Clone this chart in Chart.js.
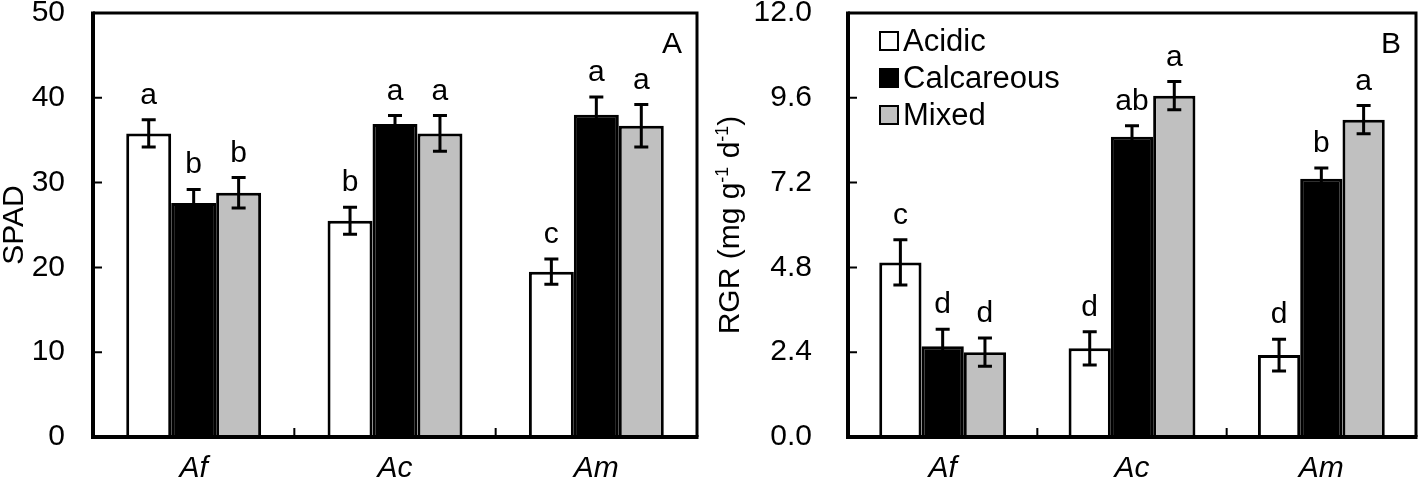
<!DOCTYPE html>
<html>
<head>
<meta charset="utf-8">
<script src="https://cdn.jsdelivr.net/npm/chart.js@4.4.1/dist/chart.umd.min.js"></script>
<style>
  body { margin: 0; background: #fff; }
  .wrap { position: relative; width: 1419px; height: 485px; }
  .panel { position: absolute; top: 0; height: 485px; }
  .left { left: 0; width: 712px; }
  .right { left: 712px; width: 707px; }
</style>
</head>
<body>
<div class="wrap">
  <div class="panel left"><canvas id="spad"></canvas></div>
  <div class="panel right"><canvas id="rgr"></canvas></div>
</div>
<script>
const categories = ["Af", "Ac", "Am"];
const seriesNames = ["Acidic", "Calcareous", "Mixed"];

// panel A - SPAD
const spadAcidic = [35.8, 25.5, 19.5];
const spadCalcareous = [27.6, 36.9, 38.0];
const spadMixed = [28.8, 35.8, 36.7];
const spadErrAcidic = [1.6, 1.6, 1.5];
const spadErrCalcareous = [1.6, 1.0, 2.1];
const spadErrMixed = [1.8, 2.1, 2.5];
const spadLetAcidic = ["a", "b", "c"];
const spadLetCalcareous = ["b", "a", "a"];
const spadLetMixed = ["b", "a", "a"];

// panel B - RGR
const rgrAcidic = [4.94, 2.51, 2.32];
const rgrCalcareous = [2.57, 8.50, 7.31];
const rgrMixed = [2.40, 9.66, 8.98];
const rgrErrAcidic = [0.64, 0.47, 0.45];
const rgrErrCalcareous = [0.48, 0.31, 0.30];
const rgrErrMixed = [0.40, 0.40, 0.40];
const rgrLetAcidic = ["c", "d", "d"];
const rgrLetCalcareous = ["d", "ab", "b"];
const rgrLetMixed = ["d", "a", "a"];

const FONT = "'Liberation Sans', Arial, sans-serif";
const SIZE = 30;
const fills = ["#ffffff", "#000000", "#c0c0c0"];

function makeDatasets(values, errors, letters) {
  return seriesNames.map((name, i) => ({
    label: name,
    data: values[i],
    errors: errors[i],
    letters: letters[i],
    backgroundColor: fills[i],
    borderColor: "#000",
    borderWidth: 3,
    borderSkipped: "start",
    categoryPercentage: 0.67,
    barPercentage: 1,
  }));
}

const figurePlugin = {
  id: "figure",
  afterDatasetsDraw(chart, args, opts) {
    const ctx = chart.ctx,
      area = chart.chartArea,
      x = chart.scales.x,
      y = chart.scales.y;
    ctx.save();

    // error bars and letters
    ctx.strokeStyle = "#000";
    ctx.fillStyle = "#000";
    ctx.lineWidth = 3;
    ctx.font = SIZE + "px " + FONT;
    ctx.textAlign = "center";
    ctx.textBaseline = "alphabetic";
    chart.data.datasets.forEach((ds, di) => {
      chart.getDatasetMeta(di).data.forEach((bar, i) => {
        const v = ds.data[i], e = ds.errors[i];
        const top = y.getPixelForValue(v + e), bot = y.getPixelForValue(v - e);
        ctx.beginPath();
        ctx.moveTo(bar.x, top);
        ctx.lineTo(bar.x, bot);
        ctx.moveTo(bar.x - 7, top);
        ctx.lineTo(bar.x + 7, top);
        ctx.moveTo(bar.x - 7, bot);
        ctx.lineTo(bar.x + 7, bot);
        ctx.stroke();
        ctx.fillText(ds.letters[i], bar.x, top - 16);
      });
    });

    // inward tick marks
    ctx.lineWidth = 2;
    ctx.beginPath();
    y.ticks.forEach((t, i) => {
      const py = y.getPixelForTick(i);
      ctx.moveTo(area.left, py);
      ctx.lineTo(area.left + 9, py);
    });
    for (let i = 0; i < categories.length - 1; i++) {
      const px = (x.getPixelForTick(i) + x.getPixelForTick(i + 1)) / 2;
      ctx.moveTo(px, area.bottom);
      ctx.lineTo(px, area.bottom - 9);
    }
    ctx.stroke();

    // frame
    ctx.lineWidth = 3;
    ctx.beginPath();
    ctx.moveTo(area.left, area.top);
    ctx.lineTo(area.right, area.top);
    ctx.lineTo(area.right, area.bottom);
    ctx.stroke();
    ctx.lineWidth = 4;
    ctx.beginPath();
    ctx.moveTo(area.left, area.top - 1.5);
    ctx.lineTo(area.left, area.bottom);
    ctx.lineTo(area.right + 1.5, area.bottom);
    ctx.stroke();

    // panel tag
    ctx.font = SIZE + "px " + FONT;
    ctx.textAlign = "center";
    ctx.textBaseline = "alphabetic";
    ctx.fillText(opts.tag, area.right - 25, 53);

    // y title, pieces with superscripts, rotated
    ctx.save();
    ctx.translate(opts.titleX, (area.top + area.bottom) / 2);
    ctx.rotate(-Math.PI / 2);
    ctx.textAlign = "left";
    let total = 0;
    opts.title.forEach((p) => {
      ctx.font = (p.sup ? "18px " : SIZE + "px ") + FONT;
      total += ctx.measureText(p.t).width;
    });
    let cx = -total / 2;
    opts.title.forEach((p) => {
      ctx.font = (p.sup ? "18px " : SIZE + "px ") + FONT;
      ctx.fillText(p.t, cx, p.sup ? 0 : 11);
      cx += ctx.measureText(p.t).width;
    });
    ctx.restore();

    // legend
    if (opts.legend) {
      ctx.font = "31px " + FONT;
      ctx.textAlign = "left";
      ctx.textBaseline = "middle";
      chart.data.datasets.forEach((ds, i) => {
        const ly = area.top + 28 + i * 37;
        const lx = area.left + 32;
        ctx.fillStyle = ds.backgroundColor;
        ctx.fillRect(lx, ly - 9, 18, 18);
        ctx.lineWidth = 2;
        ctx.strokeStyle = "#000";
        ctx.strokeRect(lx, ly - 9, 18, 18);
        ctx.fillStyle = "#000";
        ctx.fillText(ds.label, lx + 23, ly + 1);
      });
    }
    ctx.restore();
  },
};

function makeChart(id, datasets, yMax, yStep, yWidth, labelPad, rightPad, fmt, fig) {
  return new Chart(document.getElementById(id), {
    type: "bar",
    data: { labels: categories, datasets: datasets },
    plugins: [figurePlugin],
    options: {
      responsive: true,
      maintainAspectRatio: false,
      animation: false,
      layout: { padding: { top: 13, right: rightPad, left: 0, bottom: 0 } },
      plugins: {
        legend: { display: false },
        tooltip: { enabled: false },
        figure: fig,
      },
      scales: {
        x: {
          grid: { display: false },
          border: { display: false },
          ticks: {
            color: "#000",
            padding: 6,
            font: { family: FONT, size: SIZE, style: "italic" },
          },
          afterFit: (s) => {
            s.height = 48;
            s.paddingLeft = 0;
            s.paddingRight = 0;
          },
        },
        y: {
          min: 0,
          max: yMax,
          grid: { display: false, drawTicks: false },
          border: { display: false },
          ticks: {
            stepSize: yStep,
            color: "#000",
            padding: labelPad,
            font: { family: FONT, size: SIZE },
            callback: fmt,
          },
          afterFit: (s) => {
            s.width = yWidth;
            s.paddingTop = 0;
            s.paddingBottom = 0;
          },
        },
      },
    },
  });
}

makeChart(
  "spad",
  makeDatasets(
    [spadAcidic, spadCalcareous, spadMixed],
    [spadErrAcidic, spadErrCalcareous, spadErrMixed],
    [spadLetAcidic, spadLetCalcareous, spadLetMixed]
  ),
  50, 10, 93, 28, 15,
  (v) => v,
  { tag: "A", legend: false, titleX: 12, title: [{ t: "SPAD" }] }
);

makeChart(
  "rgr",
  makeDatasets(
    [rgrAcidic, rgrCalcareous, rgrMixed],
    [rgrErrAcidic, rgrErrCalcareous, rgrErrMixed],
    [rgrLetAcidic, rgrLetCalcareous, rgrLetMixed]
  ),
  12, 2.4, 136, 36, 3,
  (v) => v.toFixed(1),
  {
    tag: "B",
    legend: true,
    titleX: 16,
    title: [
      { t: "RGR (mg g" },
      { t: "-1", sup: true },
      { t: " d" },
      { t: "-1", sup: true },
      { t: ")" },
    ],
  }
);
</script>
</body>
</html>
